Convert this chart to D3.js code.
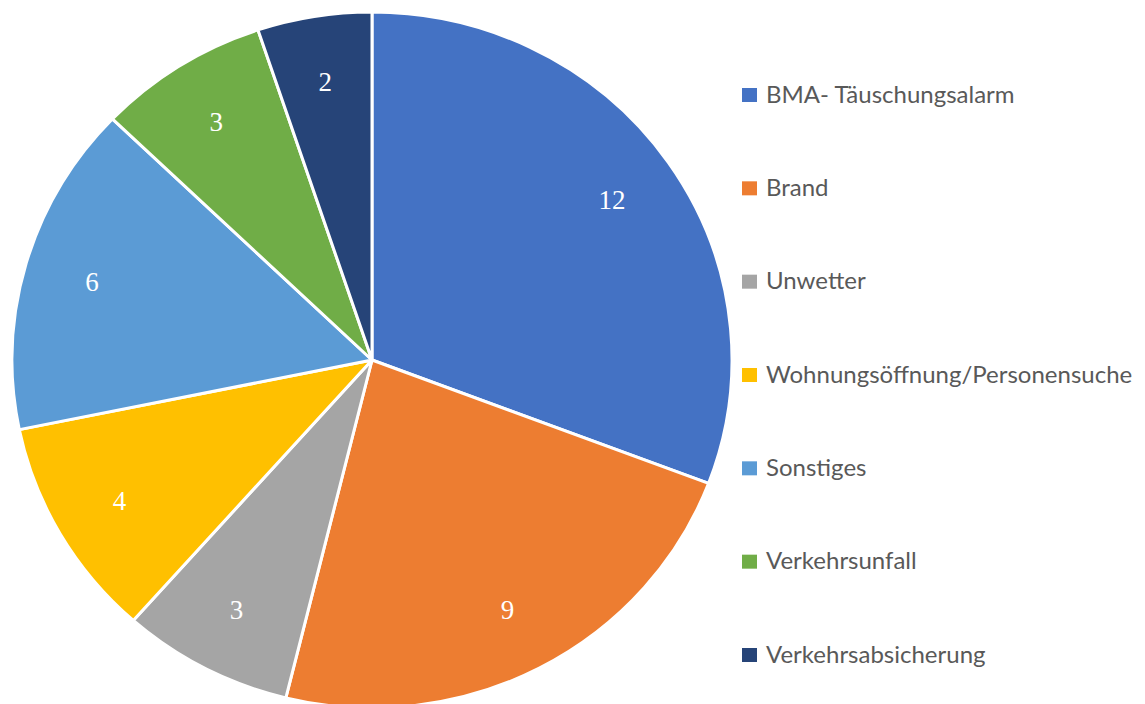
<!DOCTYPE html>
<html>
<head>
<meta charset="utf-8">
<script src="https://cdn.jsdelivr.net/npm/d3@7"></script>
<style>
  html, body { margin: 0; padding: 0; background: #fff; }
  svg { display: block; }
</style>
</head>
<body>
<div id="chart"></div>
<script>
// Einsatzarten und Anzahl
const categories = [
  "BMA- Täuschungsalarm",
  "Brand",
  "Unwetter",
  "Wohnungsöffnung/Personensuche",
  "Sonstiges",
  "Verkehrsunfall",
  "Verkehrsabsicherung"
];
const values = [12, 9, 3, 4, 6, 3, 2];
const colors = ["#4472C4", "#ED7D31", "#A5A5A5", "#FFC000", "#5B9BD5", "#70AD47", "#264478"];

const width = 1145;
const height = 704;

const svg = d3.select("#chart").append("svg")
  .attr("width", width)
  .attr("height", height);

// Kreis ist im Original leicht in die Breite gezogen
const cx = 372, cy = 360;
const ry = 348, rx = 360;

const color = d3.scaleOrdinal().domain(categories).range(colors);

const pie = d3.pie().sort(null).value(d => d.value);
const arcs = pie(categories.map((c, i) => ({ name: c, value: values[i] })));

const arc = d3.arc().innerRadius(0).outerRadius(ry);
const labelArc = d3.arc().innerRadius(ry * 0.81).outerRadius(ry * 0.81);

const g = svg.append("g")
  .attr("transform", `translate(${cx},${cy}) scale(${rx / ry},1)`);

g.selectAll("path")
  .data(arcs)
  .join("path")
  .attr("d", arc)
  .attr("fill", d => color(d.data.name))
  .attr("stroke", "#fff")
  .attr("stroke-width", 3)
  .attr("stroke-linejoin", "round")
  .attr("vector-effect", "non-scaling-stroke");

// Datenbeschriftungen
svg.append("g")
  .selectAll("text")
  .data(arcs)
  .join("text")
  .attr("x", d => cx + labelArc.centroid(d)[0] * rx / ry)
  .attr("y", d => cy + labelArc.centroid(d)[1])
  .attr("dy", "0.35em")
  .attr("text-anchor", "middle")
  .attr("font-family", "'Liberation Serif', 'Times New Roman', serif")
  .attr("font-size", 27)
  .attr("fill", "#fff")
  .text(d => d.data.value);

// Legende
const legendY = d3.scalePoint().domain(categories).range([95, 655]);

const legend = svg.append("g")
  .selectAll("g")
  .data(categories)
  .join("g")
  .attr("transform", d => `translate(742,${legendY(d)})`);

legend.append("rect")
  .attr("x", 0)
  .attr("y", -7)
  .attr("width", 15)
  .attr("height", 14)
  .attr("fill", d => color(d));

legend.append("text")
  .attr("x", 24)
  .attr("y", 7.5)
  .attr("font-family", "Lato, 'Open Sans', sans-serif")
  .attr("font-size", 24)
  .attr("fill", "#595959")
  .text(d => d);
</script>
</body>
</html>
